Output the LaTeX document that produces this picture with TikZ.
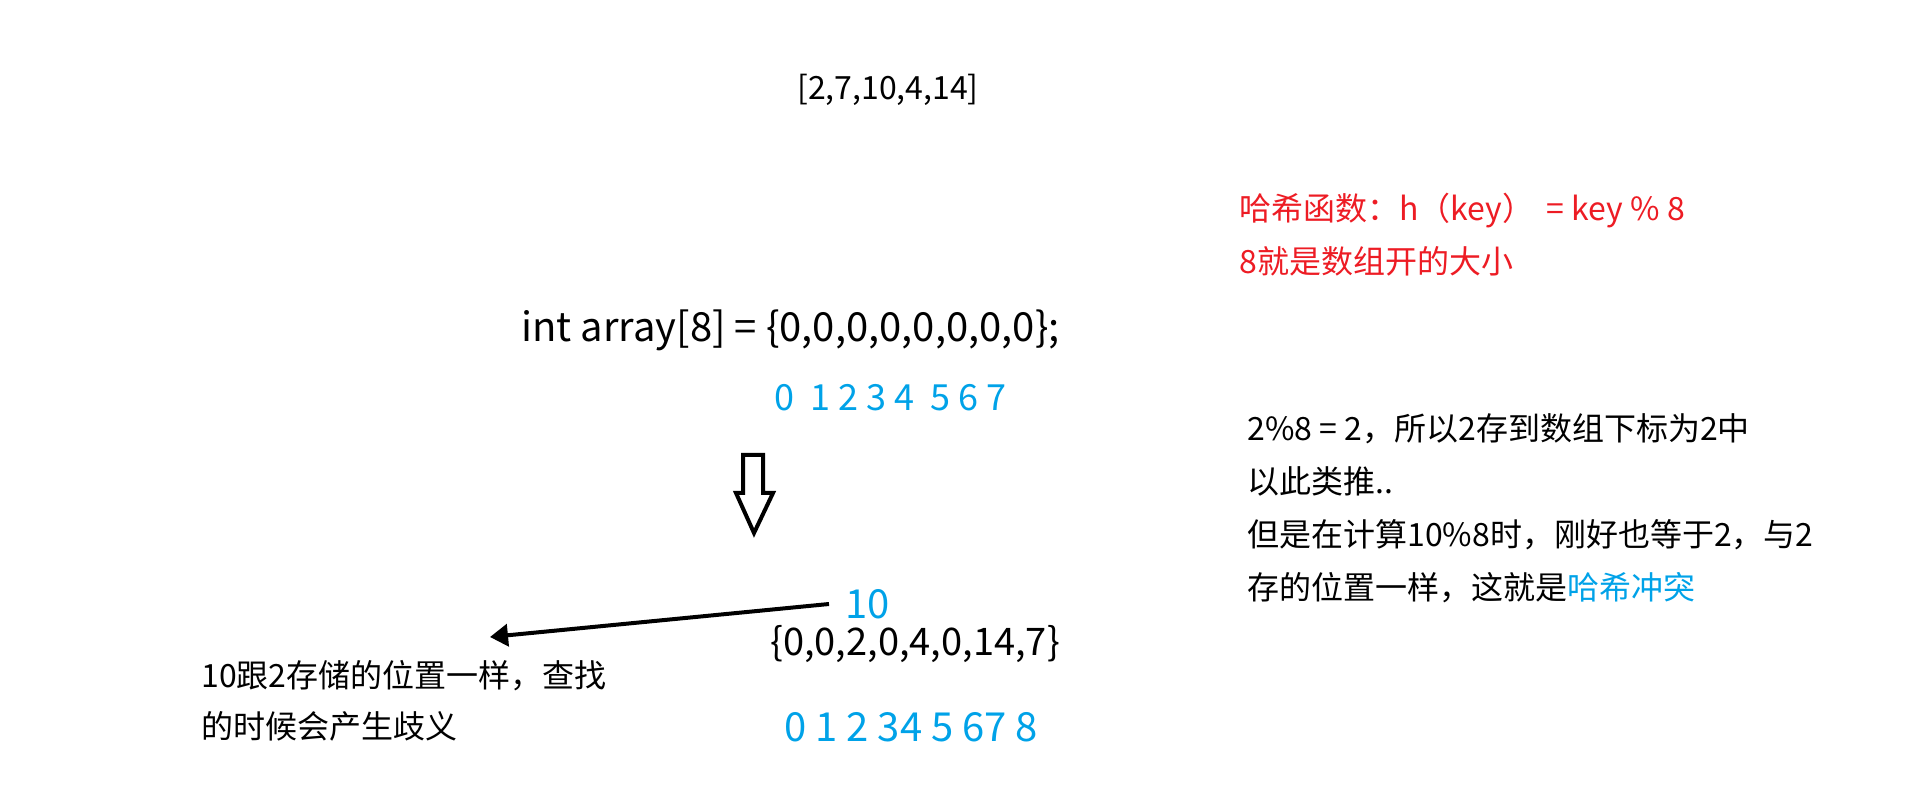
\documentclass[tikz,border=0pt]{standalone}
\usepackage{fontspec}
\setmainfont{Noto Sans CJK SC}
\usepackage{tikz}
\usetikzlibrary{arrows.meta,positioning}
\definecolor{hashred}{RGB}{237,28,36}
\definecolor{idxblue}{RGB}{0,162,232}

\begin{document}
\begin{tikzpicture}[
  x=0.5pt, y=-0.5pt,
  txt/.style={inner sep=0pt, anchor=west, font=\fontsize{16pt}{19pt}\selectfont},
  big/.style={inner sep=0pt, anchor=west, font=\fontsize{20pt}{24pt}\selectfont},
  note/.style={inner sep=0pt, anchor=north west, align=left,
    font=\fontsize{16pt}{26.5pt}\selectfont},
  arr/.style={-{Triangle[length=9pt,width=11pt]}, line width=2pt}
]
  \useasboundingbox (0,0) rectangle (1932,785);
  \node[txt, anchor=center] (keys) at (888,90) {[2,7,10,4,14]};
  \node[note, text=hashred] (hashfn) at (1239,193)
    {哈希函数：h（key）\ \,= key \% 8\\8就是数组开的大小};
  \node[big] (array) at (521,330) {int array[8] = \{0,0,0,0,0,0,0,0\};};
  \node[txt, text=idxblue, font=\fontsize{18pt}{21pt}\selectfont] (idx) at (774,398)
    {0\ \ 1 2 3 4\ \ 5 6 7};
  %
  \node[note] (explain) at (1247,413)
    {2\%8 = 2，所以2存到数组下标为2中\\以此类推..\\但是在计算10\%8时，刚好也等于2，与2\\存的位置一样，这就是\textcolor{idxblue}{哈希冲突}};
  %
  \draw[line width=2pt] (743,455) -- (763,455) -- (763,493) -- (773,493)
    -- (754,533) -- (736,493) -- (743,493) -- cycle;
  %
  \node[big, text=idxblue] (ten) at (845,604) {10};
  \node[big, font=\fontsize{19pt}{23pt}\selectfont] (vals) at (770,644) {\{0,0,2,0,4,0,14,7\}};
  \node[big, text=idxblue] (idxb) at (784,727) {0 1 2 34 5 67 8};
  \node[note, font=\fontsize{16pt}{25.5pt}\selectfont] (clash) at (201,660)
    {10跟2存储的位置一样，查找\\的时候会产生歧义};
  \coordinate (hit) at (490,637);
  \draw[arr] ([xshift=-8pt]ten.west) -- (hit);
\end{tikzpicture}
\end{document}
